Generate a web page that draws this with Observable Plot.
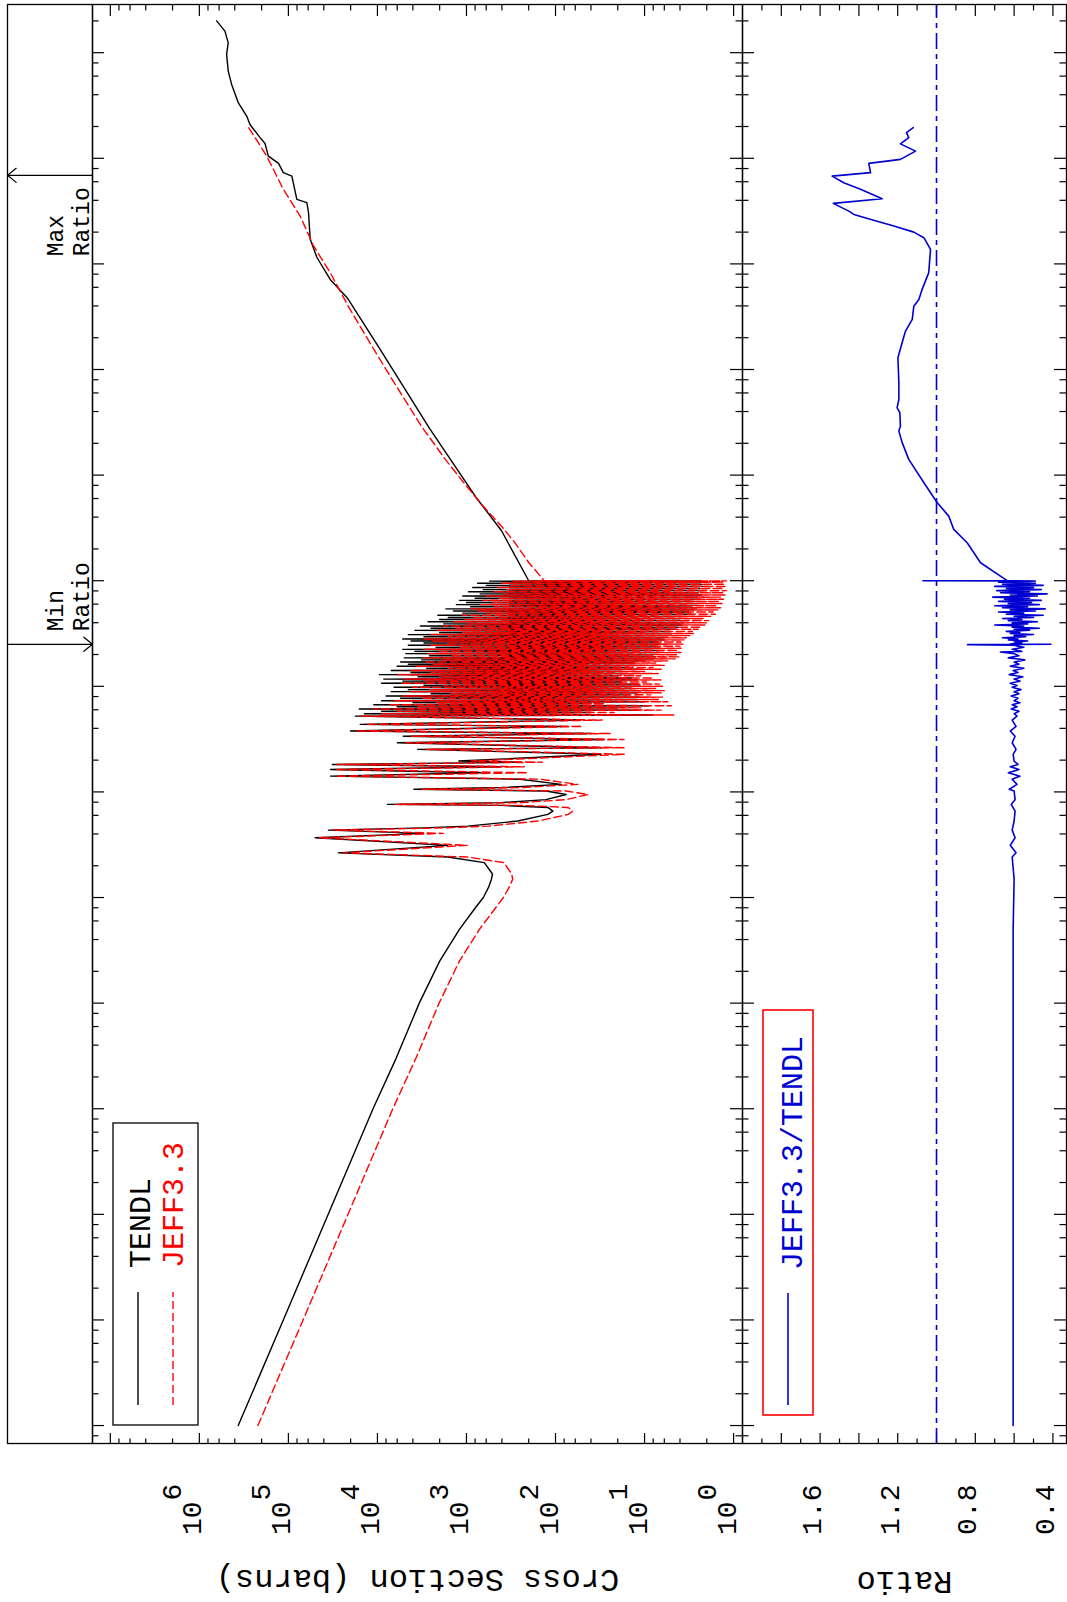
<!DOCTYPE html>
<html>
<head>
<meta charset="utf-8">
<script src="https://cdn.jsdelivr.net/npm/d3@7"></script>
<script src="https://cdn.jsdelivr.net/npm/@observablehq/plot@0.6"></script>
<style>
html, body { margin: 0; padding: 0; background: #fff; overflow: hidden; width: 1067px; height: 1602px; }
#page { position: absolute; left: 0; top: 0; width: 1602px; height: 1067px; background: #fff;
        transform-origin: 0 0; transform: translate(0px, 1602px) rotate(-90deg); }
#page > svg { position: absolute; left: 0; }
</style>
</head>
<body>
<div id="page"></div>
<script>
// ---------------- DATA (energy in eV, cross section in barns) ----------------
const lowE      = [1e-5, 1e-4, 1e-3, 1e-2, 0.03, 0.1, 0.25, 0.5, 0.8, 1.0, 1.26, 1.49, 1.67, 2.14];
const tendlLow  = [366000, 114000, 35700, 11200, 6170, 3390, 2000, 1200, 794, 646, 562, 525, 510, 631];
const jeffLow   = [220000, 68400, 21400, 6720, 3700, 2030, 1200, 715, 470, 385, 330, 303, 310, 380];

const resE = [2.42, 2.65, 3.12, 3.68, 4.05, 4.35, 4.57, 4.74, 5.30, 6.12, 6.58, 7.13, 7.45, 7.62, 7.91, 8.45, 9.46, 10.2, 10.6, 11.0,
  11.8, 13.2, 14.1, 15.2, 16.3, 17.3, 18.2, 19.1, 19.6, 22.7, 25.3, 26.2, 29.2, 31.4, 33.7, 35.7, 37.7, 41.7, 43.6, 47.9, 52.2,
  53.5, 55, 56.5, 58, 59.5, 61, 62.5, 64, 65.5, 67, 68.5, 70, 71.5, 73, 75, 77, 79, 81, 83, 85, 87, 89, 91, 93, 95.5, 98, 100,
  102, 105, 107, 110, 112, 115, 117, 120, 123, 126, 129, 132, 135, 138, 141, 145, 148, 151, 155, 158, 162, 166, 170, 174, 178,
  182, 186, 190, 195, 199, 204, 209, 214, 219, 224, 229, 234, 240, 245, 251, 257, 263, 269, 275, 281, 288, 295, 302, 309, 316,
  323, 331, 339, 347, 355, 363, 372, 381, 390, 399, 409, 419, 429, 439, 449, 460, 471, 482, 493, 505, 517, 529, 541, 554, 567,
  580, 594, 608, 622, 637, 652, 667, 683, 699, 716, 733, 750, 768, 786, 805, 824, 843, 863, 883, 904, 925, 947, 969, 990, 996];
const tendlRes = [1620, 27500, 1630, 50000, 3030, 35600, 3030, 968, 265, 122, 107, 122, 411, 7700, 411, 128, 76, 128, 3890, 400,
  86, 250, 33600, 690, 33600, 411, 32100, 245, 1220, 30.7, 3540, 30.7, 5960, 28.4, 5130, 39.8, 20100, 85, 15600, 52, 17700,
  8, 14000, 40, 9000, 12, 16000, 20, 6000, 9, 11000, 50, 4000, 10, 9000, 12, 5500, 11, 8000, 15, 2500, 12, 7000, 11, 4500, 14, 6500, 11,
  3000, 12, 9000, 18, 5200, 12, 8500, 14, 3500, 20, 9500, 13, 4200, 18, 7000, 12, 2800, 15, 6000, 11, 4500, 13, 5500, 10, 3200,
  8, 5000, 7.5, 2600, 8, 4800, 7, 3800, 7.5, 5200, 6.8, 2200, 7.2, 4500, 6.5, 3000, 7, 4200, 6, 5200, 6, 3000, 5.5, 4500, 5,
  2000, 5.2, 3800, 4.5, 2500, 4.2, 3300, 3.8, 1800, 3.7, 2700, 3.5, 2000, 3.9, 1600, 3.4, 2100, 3.0, 1100, 3.2, 1400, 2.8, 1700, 2.6, 900,
  2.9, 1300, 2.5, 1000, 2.7, 1200, 2.4, 800, 2.6, 1100, 2.3, 700, 2.5, 950, 2.2, 650, 2.4, 850, 2.2, 600, 2.3, 750, 2.4, 550, 2.3];
const jeffRes = [980, 24000, 980, 44700, 1820, 31600, 1820, 575, 158, 72, 64, 72, 245, 6300, 245, 76, 43, 76, 3160, 240,
  56, 150, 29500, 204, 29500, 224, 28200, 141, 890, 16.9, 2820, 16.9, 4790, 17, 4170, 24, 17400, 50, 13500, 30, 15100,
  4.7, 9000, 22, 6000, 6.5, 11000, 11, 3500, 5, 7500, 28, 2200, 5.5, 6500, 7, 3200, 6.2, 5200, 8.5, 1500, 6.5, 4300, 6, 2600, 7.5, 4000, 6.3,
  1800, 6.8, 5500, 9.5, 3000, 6.5, 5000, 8, 2000, 11, 6000, 7, 2500, 10, 4200, 6.5, 1600, 8, 3600, 6, 2400, 7.5, 3000, 5.5, 1900,
  4.5, 3000, 4, 1500, 4.3, 2700, 3.9, 2100, 4.2, 3000, 3.9, 1200, 4, 2500, 3.7, 1700, 3.9, 2400, 3.6, 3000, 3.4, 1600, 3.1, 2500, 2.8,
  1100, 2.9, 2100, 2.5, 1300, 2.3, 1800, 2.1, 1000, 2.0, 1400, 1.9, 1050, 2.2, 850, 1.8, 1100, 1.6, 600, 1.7, 750, 1.5, 900, 1.4, 480,
  1.55, 700, 1.35, 520, 1.45, 650, 1.3, 430, 1.4, 600, 1.25, 380, 1.3, 500, 1.2, 360, 1.3, 450, 1.2, 330, 1.25, 400, 1.3, 300, 1.2];

const tendlHighE = [1000, 2970, 6210, 27500, 165000, 479000, 713000, 1.15e6, 1.71e6, 3.05e6, 3.8e6, 4.08e6, 6.79e6, 7.31e6,
  8.95e6, 1.05e7, 1.38e7, 1.57e7, 2.09e7, 2.51e7, 3.37e7, 5.01e7, 6.7e7, 9.64e7, 1.24e8, 1.6e8, 2.0e8];
const tendlHigh  = [200, 404, 787, 2590, 9750, 21900, 33900, 47800, 56900, 59400, 62000, 80400, 91400, 114000,
  129000, 168000, 183000, 208000, 270000, 294000, 366000, 434000, 474000, 494000, 474000, 516000, 640000];
const jeffHighE  = [1000, 1480, 2290, 3090, 5480, 8470, 14100, 29100, 75000, 180000, 398000, 827000, 1.48e6, 2.84e6, 5.08e6, 1.05e7, 1.98e7];
const jeffHigh   = [134, 199, 286, 380, 703, 1070, 1730, 3210, 6490, 12200, 21300, 33900, 52200, 73800, 114000, 175000, 282000];

// JEFF3.3 / TENDL ratio
const ratioE = [1e-5, 0.01, 0.5, 1.5, 2.42, 2.65, 3.12, 3.68, 4.35, 5.3, 6.58, 7.62, 8.45, 10.2, 10.6, 11.8, 13.2, 14.1, 15.2, 16.3,
  17.3, 18.2, 19.6, 22.7, 25.3, 29.2, 33.7, 37.7, 41.7, 47.9, 52.2,
  55, 58, 61, 64, 67, 70, 73, 77, 81, 85, 89, 93, 98, 102, 107, 112, 117, 123, 129, 135, 141, 148, 155, 162, 170, 178, 186, 195,
  204, 211, 214, 224, 234, 245, 248, 250, 252, 257, 263, 269, 275, 281, 288, 295, 302, 309, 316, 323, 331, 339, 347, 355, 363,
  372, 381, 390, 399, 409, 419, 429, 439, 449, 460, 471, 482, 493, 505, 517, 529, 541, 554, 567, 580, 594, 608, 622, 637, 652,
  667, 683, 699, 716, 733, 750, 768, 786, 805, 824, 843, 863, 883, 904, 925, 947, 969, 985, 995, 998, 1000,
  1480, 2290, 3060, 4090, 5480, 8470, 14100, 20300, 26100, 29100, 39000, 43400, 52100, 75000, 129000, 180000, 231000, 298000,
  398000, 461000, 574000, 826000, 1.37e6, 1.77e6, 2.0e6, 2.28e6, 2.54e6, 2.94e6, 3.16e6, 3.74e6, 4.14e6, 5.08e6, 5.87e6,
  6.78e6, 7.31e6, 8.95e6, 9.77e6, 1.17e7, 1.37e7, 1.57e7, 1.75e7, 1.95e7];
const ratioV = [0.605, 0.605, 0.605, 0.600, 0.61, 0.59, 0.62, 0.595, 0.61, 0.60, 0.595, 0.615, 0.595, 0.60, 0.625, 0.585, 0.61, 0.57, 0.63, 0.575,
  0.62, 0.58, 0.60, 0.605, 0.59, 0.61, 0.595, 0.62, 0.59, 0.61, 0.585,
  0.60, 0.575, 0.615, 0.585, 0.61, 0.57, 0.60, 0.58, 0.615, 0.575, 0.60, 0.565, 0.61, 0.585, 0.62, 0.57, 0.60, 0.555, 0.625, 0.58, 0.605, 0.55, 0.62, 0.575, 0.60, 0.545, 0.63, 0.575,
  0.60, 0.67, 0.56, 0.61, 0.55, 0.60, 0.84, 0.41, 0.62, 0.56, 0.60, 0.53, 0.63, 0.58, 0.66, 0.54, 0.60, 0.50, 0.62, 0.57, 0.64, 0.52, 0.60, 0.47, 0.61,
  0.55, 0.70, 0.53, 0.61, 0.48, 0.63, 0.56, 0.66, 0.50, 0.60, 0.45, 0.64, 0.55, 0.68, 0.49, 0.62, 0.44, 0.66, 0.53, 0.70, 0.47, 0.63, 0.51, 0.68, 0.46,
  0.65, 0.52, 0.71, 0.48, 0.62, 0.43, 0.67, 0.52, 0.69, 0.46, 0.64, 0.50, 0.70, 0.45, 0.66, 0.49, 0.68, 0.52, 0.49, 1.07, 0.636,
  0.773, 0.842, 0.911, 0.937, 0.996, 1.065, 1.143, 1.177, 1.194, 1.186, 1.189, 1.203, 1.194, 1.194, 1.199, 1.177, 1.16, 1.125,
  1.117, 1.091, 1.074, 1.04, 1.031, 1.065, 1.117, 1.22, 1.306, 1.426, 1.452, 1.532, 1.28, 1.392, 1.478,
  1.538, 1.34, 1.349, 1.186, 1.108, 1.186, 1.143, 1.155, 1.12];

const maxRatioE = 6.9e6;   // position of "Max Ratio" marker
const minRatioE = 250;     // position of "Min Ratio" marker

// axes
const xDomain = [6.76e-6, 2.86e8];
const ySigmaDomain = [0.7943, 1.585e7];
const yRatioDomain = [0.33, 2.0];
const energyMajor = [1e-5, 1e-4, 1e-3, 1e-2, 1e-1, 1, 10, 100, 1e3, 1e4, 1e5, 1e6, 1e7, 1e8];
const sigmaMajor = [1, 10, 100, 1e3, 1e4, 1e5, 1e6, 1e7];
const sigmaLabelVals = [1, 10, 100, 1e3, 1e4, 1e5, 1e6];
const sigmaExponents = ["0", "1", "2", "3", "4", "5", "6"];
const minorMult = [2, 4, 6, 8];
const ratioMajor = [0.4, 0.6, 0.8, 1.0, 1.2, 1.4, 1.6, 1.8];
const ratioMinor = [0.5, 0.7, 0.9, 1.1, 1.3, 1.5, 1.7, 1.9];
const ratioLabels = [0.4, 0.8, 1.2, 1.6];

// ---------------- build ----------------
const FONT = "'Liberation Mono', 'DejaVu Sans Mono', monospace";
const W = 1602, ML = 158, MR = 5, FW = W - ML - MR;
const BLUE = "#0000d0";

const energyMinor = d3.range(-6, 9).flatMap(k => minorMult.map(m => m * Math.pow(10, k)))
  .filter(v => v > xDomain[0] && v < xDomain[1]);
const sigmaMinor = d3.range(-1, 8).flatMap(k => minorMult.map(m => m * Math.pow(10, k)))
  .filter(v => v > ySigmaDomain[0] * 1.02 && v < ySigmaDomain[1]);

const tendl = [
  ...lowE.map((E, i) => ({E, s: tendlLow[i]})),
  ...resE.map((E, i) => ({E, s: tendlRes[i]})),
  ...tendlHighE.map((E, i) => ({E, s: tendlHigh[i]}))
];
const jeff = [
  ...lowE.map((E, i) => ({E, s: jeffLow[i]})),
  ...resE.map((E, i) => ({E, s: jeffRes[i]})),
  ...jeffHighE.map((E, i) => ({E, s: jeffHigh[i]}))
];
const ratio = ratioE.map((E, i) => ({E, r: ratioV[i]}));

const svgStyle = {background: "none", overflow: "visible", fontFamily: FONT};
const page = document.getElementById("page");

function energyTicks(frameH) {
  return [
    Plot.tickX(energyMajor, {x: d => d, insetTop: frameH - 12, stroke: "black", strokeWidth: 1.2}),
    Plot.tickX(energyMajor, {x: d => d, insetBottom: frameH - 12, stroke: "black", strokeWidth: 1.2}),
    Plot.tickX(energyMinor, {x: d => d, insetTop: frameH - 6.5, stroke: "black", strokeWidth: 1.2}),
    Plot.tickX(energyMinor, {x: d => d, insetBottom: frameH - 6.5, stroke: "black", strokeWidth: 1.2})
  ];
}
function yTicks(major, minor) {
  return [
    Plot.tickY(major, {y: d => d, insetRight: FW - 11, stroke: "black", strokeWidth: 1.2}),
    Plot.tickY(major, {y: d => d, insetLeft: FW - 11, stroke: "black", strokeWidth: 1.2}),
    Plot.tickY(minor, {y: d => d, insetRight: FW - 5.5, stroke: "black", strokeWidth: 1.2}),
    Plot.tickY(minor, {y: d => d, insetLeft: FW - 5.5, stroke: "black", strokeWidth: 1.2})
  ];
}

// strip with min / max ratio markers
const strip = Plot.plot({
  width: W, height: 92, marginTop: 7, marginBottom: 0, marginLeft: ML, marginRight: MR,
  style: svgStyle,
  x: {type: "log", domain: xDomain, axis: null},
  y: {domain: [0, 1], axis: null},
  marks: [
    Plot.frame({stroke: "black", strokeWidth: 1.3}),
    Plot.arrow([maxRatioE], {x1: d => d, x2: d => d, y1: 0, y2: 1, stroke: "black", strokeWidth: 1.2, headLength: 14, headAngle: 78}),
    Plot.arrow([minRatioE], {x1: d => d, x2: d => d, y1: 1, y2: 0, stroke: "black", strokeWidth: 1.2, headLength: 14, headAngle: 78}),
    Plot.text([maxRatioE], {x: d => d, y: 0, text: () => "Max\nRatio", textAnchor: "start", lineAnchor: "bottom",
      lineHeight: 1.09, dx: -81, dy: -4, fontSize: 23, fontFamily: FONT, fill: "black"}),
    Plot.text([minRatioE], {x: d => d, y: 0, text: () => "Min\nRatio", textAnchor: "start", lineAnchor: "bottom",
      lineHeight: 1.09, dx: 13, dy: -4, fontSize: 23, fontFamily: FONT, fill: "black"})
  ]
});
strip.style.top = "0px";
page.appendChild(strip);

// cross section panel
const HA = 650;
const topPlot = Plot.plot({
  width: W, height: HA, marginTop: 0, marginBottom: 0, marginLeft: ML, marginRight: MR,
  style: svgStyle,
  x: {type: "log", domain: xDomain, axis: null},
  y: {type: "log", domain: ySigmaDomain, axis: null},
  marks: [
    ...energyTicks(HA),
    ...yTicks(sigmaMajor, sigmaMinor),
    Plot.line(tendl, {x: "E", y: "s", stroke: "black", strokeWidth: 1.4}),
    Plot.line(jeff, {x: "E", y: "s", stroke: "#ff0000", strokeWidth: 1.4, strokeDasharray: "8,4"}),
    Plot.frame({stroke: "black", strokeWidth: 1.3}),
    Plot.text(sigmaLabelVals, {y: d => d, frameAnchor: "left", text: () => "10", textAnchor: "end", lineAnchor: "bottom",
      dx: -58, dy: 2, fontSize: 28, fontFamily: FONT, fill: "black"}),
    Plot.text(sigmaLabelVals, {y: d => d, frameAnchor: "left", text: (d, i) => sigmaExponents[i], textAnchor: "start", lineAnchor: "bottom",
      dx: -57, dy: -18, fontSize: 28, fontFamily: FONT, fill: "black"}),
    Plot.text(["Cross Section (barns)"], {frameAnchor: "left", text: d => d, rotate: -90, textAnchor: "middle", lineAnchor: "bottom",
      dx: -126, fontSize: 32, fontFamily: FONT, fill: "black"})
  ]
});
topPlot.style.top = "92px";
page.appendChild(topPlot);

// legend of the cross-section panel
{
  const g = d3.select(topPlot).append("g").attr("font-family", FONT).attr("text-anchor", "start");
  g.append("rect").attr("x", 177).attr("y", 21).attr("width", 302).attr("height", 85)
    .attr("fill", "white").attr("stroke", "black").attr("stroke-width", 1.3);
  g.append("line").attr("x1", 197).attr("x2", 310).attr("y1", 46).attr("y2", 46)
    .attr("stroke", "black").attr("stroke-width", 1.4);
  g.append("text").attr("x", 334).attr("y", 58).attr("font-size", 30).attr("text-anchor", "start").attr("fill", "black").text("TENDL");
  g.append("line").attr("x1", 197).attr("x2", 310).attr("y1", 81).attr("y2", 81)
    .attr("stroke", "#ff0000").attr("stroke-width", 1.4).attr("stroke-dasharray", "8,4");
  g.append("text").attr("x", 334).attr("y", 91).attr("font-size", 30).attr("text-anchor", "start").attr("fill", "#ff0000").text("JEFF3.3");
}

// ratio panel
const HB = 325;
const botPlot = Plot.plot({
  width: W, height: HB, marginTop: 0, marginBottom: 1, marginLeft: ML, marginRight: MR,
  style: svgStyle,
  x: {type: "log", domain: xDomain, axis: null},
  y: {domain: yRatioDomain, axis: null},
  marks: [
    ...energyTicks(HB - 1),
    ...yTicks(ratioMajor, ratioMinor),
    Plot.ruleY([1], {stroke: BLUE, strokeWidth: 1.6, strokeDasharray: "16,5,5,5"}),
    Plot.line(ratio, {x: "E", y: "r", stroke: BLUE, strokeWidth: 1.6}),
    Plot.frame({stroke: "black", strokeWidth: 1.3}),
    Plot.text(ratioLabels, {y: d => d, frameAnchor: "left", text: d => d3.format(".1f")(d), textAnchor: "end", lineAnchor: "bottom",
      dx: -41, dy: 1, fontSize: 28, fontFamily: FONT, fill: "black"}),
    Plot.text(["Ratio"], {frameAnchor: "left", text: d => d, rotate: -90, textAnchor: "middle", lineAnchor: "bottom",
      dx: -128, fontSize: 32, fontFamily: FONT, fill: "black"})
  ]
});
botPlot.style.top = "742px";
page.appendChild(botPlot);

{
  const g = d3.select(botPlot).append("g").attr("font-family", FONT).attr("text-anchor", "start");
  g.append("rect").attr("x", 187).attr("y", 21).attr("width", 405).attr("height", 50)
    .attr("fill", "white").attr("stroke", "#ff0000").attr("stroke-width", 1.6);
  g.append("line").attr("x1", 197).attr("x2", 309).attr("y1", 46).attr("y2", 46)
    .attr("stroke", BLUE).attr("stroke-width", 1.6);
  g.append("text").attr("x", 332).attr("y", 60).attr("font-size", 30).attr("text-anchor", "start").attr("fill", BLUE).text("JEFF3.3/TENDL");
}
</script>
</body>
</html>
